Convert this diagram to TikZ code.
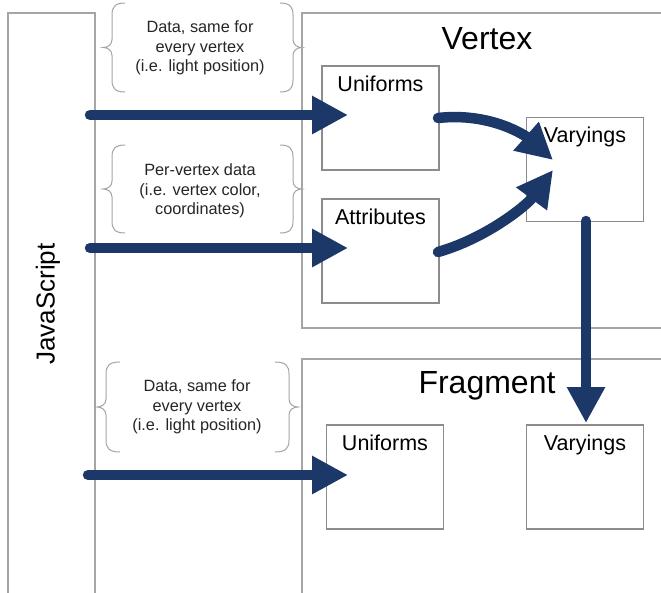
\documentclass[tikz,border=0pt]{standalone}
\usepackage{fontspec}
\setmainfont{Liberation Sans}
\usetikzlibrary{arrows.meta}
\definecolor{navy}{RGB}{27,56,105}
\definecolor{frame}{RGB}{165,165,165}
\definecolor{boxline}{RGB}{140,140,140}
\newcommand\lbrc[4]{% xtip, xend, ytop, ybot  (left brace)
  \draw[brace] (#2,#3) .. controls ({#1+12},#3) and ({#1+9},{#3+4}) .. ({#1+9},{#3+12})
    -- ({#1+9},{(#3+#4)/2-8}) .. controls ({#1+9},{(#3+#4)/2-3}) and ({#1+5},{(#3+#4)/2}) .. (#1,{(#3+#4)/2})
    .. controls ({#1+5},{(#3+#4)/2}) and ({#1+9},{(#3+#4)/2+3}) .. ({#1+9},{(#3+#4)/2+8})
    -- ({#1+9},{#4-12}) .. controls ({#1+9},{#4-4}) and ({#1+12},#4) .. (#2,#4);}
\newcommand\rbrc[4]{% xtip, xend, ytop, ybot  (right brace)
  \draw[brace] (#2,#3) .. controls ({#1-12},#3) and ({#1-9},{#3+4}) .. ({#1-9},{#3+12})
    -- ({#1-9},{(#3+#4)/2-8}) .. controls ({#1-9},{(#3+#4)/2-3}) and ({#1-5},{(#3+#4)/2}) .. (#1,{(#3+#4)/2})
    .. controls ({#1-5},{(#3+#4)/2}) and ({#1-9},{(#3+#4)/2+3}) .. ({#1-9},{(#3+#4)/2+8})
    -- ({#1-9},{#4-12}) .. controls ({#1-9},{#4-4}) and ({#1-12},#4) .. (#2,#4);}
\begin{document}
\begin{tikzpicture}[x=1pt,y=-1pt,
 panel/.style={draw=frame, line width=1.3pt},
 box/.style={draw=boxline, line width=1.2pt, rectangle, inner sep=0pt, minimum width=117pt, minimum height=104pt},
 lbl/.style={anchor=north, font=\fontsize{21.5}{25}\selectfont, text height=15.5pt, text depth=4pt, inner sep=0pt, yshift=-10pt},
 title/.style={font=\fontsize{32}{36}\selectfont, anchor=base, inner sep=0pt},
 note/.style={font=\fontsize{16.3}{19.5}\selectfont, align=center, text=black!85, inner sep=0pt},
 brace/.style={draw=frame, line width=1pt},
 flow/.style={draw=navy, line width=10.5pt, line cap=round, -{Triangle[length=36pt,width=36pt]}},
]
\fill[white] (0,0) rectangle (661,592);
\useasboundingbox (0,0) rectangle (661,592);

% panels
\draw[panel] (8,600) -- (8,13) -- (95,13) -- (95,600);
\draw[panel] (670,13) -- (302,13) -- (302,328) -- (670,328);
\draw[panel] (670,359) -- (302,359) -- (302,600);

\node[rotate=90, font=\fontsize{26}{30}\selectfont, inner sep=0pt] (js) at (48,304) {JavaScript};
\node[title] (vt) at (487,49) {Vertex};
\node[title] (ft) at (487,393) {Fragment};

% boxes
\node[box] (vu) at (380.5,118) {};
\node[lbl] at (vu.north) {Uniforms};
\node[box] (va) at (380.5,251) {};
\node[lbl] at (va.north) {Attributes};
\node[box] (vv) at (585,169.5) {};
\node[lbl] at (vv.north) {Varyings};
\node[box] (fu) at (385,477) {};
\node[lbl] at (fu.north) {Uniforms};
\node[box] (fv) at (585,477) {};
\node[lbl] at (fv.north) {Varyings};

% notes with braces
\node[note] (n1) at (200,48) {Data, same for\\every vertex\\(i.e. light position)};
\lbrc{103}{125}{3}{92}
\rbrc{302}{280}{3}{92}
\node[note] (n2) at (200,191) {Per-vertex data\\(i.e. vertex color,\\coordinates)};
\lbrc{103}{125}{145}{233}
\rbrc{302}{280}{145}{233}
\node[note] (n3) at (197,407) {Data, same for\\every vertex\\(i.e. light position)};
\lbrc{97}{120}{362}{452}
\rbrc{298}{275}{362}{452}

% arrows
\coordinate (s1) at (90,115);
\coordinate (t1) at (348,115);
\coordinate (s2) at (90,248);
\coordinate (t2) at (348,248);
\coordinate (s3) at (88,475);
\coordinate (t3) at (348,475);
\coordinate (c1s) at (438,118);
\coordinate (c1t) at (553,160);
\coordinate (c2s) at (438,252);
\coordinate (c2t) at (553,170);
\coordinate (d1) at (586,221);
\coordinate (d2) at (586,423);
\draw[flow] (s1) -- (t1);
\draw[flow] (s2) -- (t2);
\draw[flow] (s3) -- (t3);
\draw[flow] (c1s) .. controls (492,112) and (527,137) .. (c1t);
\draw[flow] (c2s) .. controls (487,238) and (527,205) .. (c2t);
\draw[flow] (d1) -- (d2);
\end{tikzpicture}
\end{document}
